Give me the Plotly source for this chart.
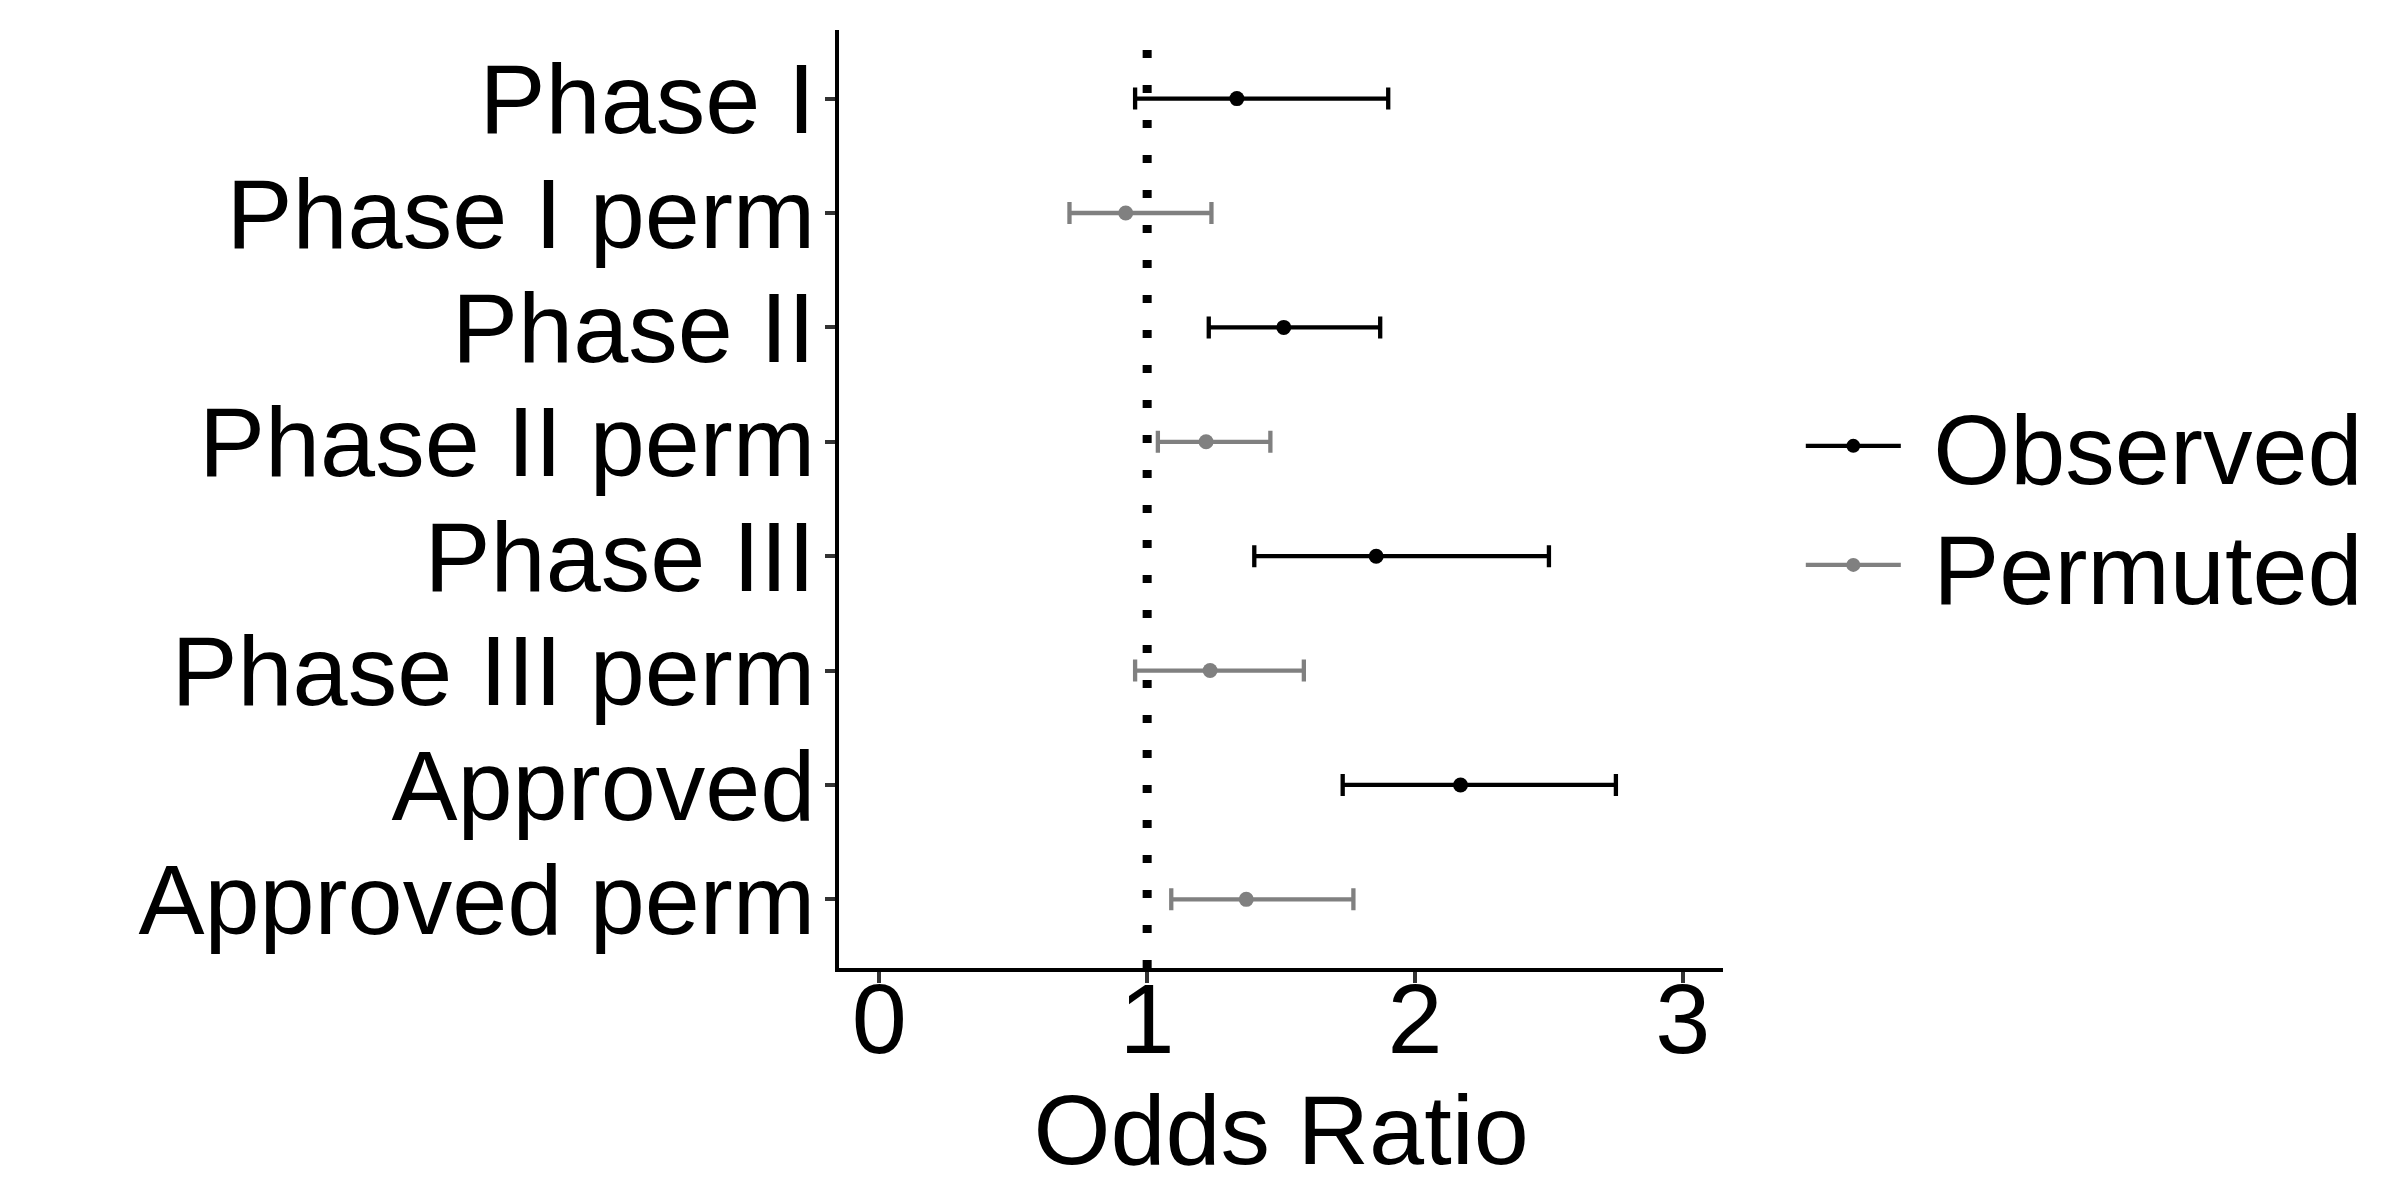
import plotly.graph_objects as go

# ---- data ----
categories = ["Phase I", "Phase I perm", "Phase II", "Phase II perm",
              "Phase III", "Phase III perm", "Approved", "Approved perm"]

obs_labels = ["Phase I", "Phase II", "Phase III", "Approved"]
obs_or = [1.335, 1.51, 1.855, 2.17]
obs_lo = [0.955, 1.23, 1.40, 1.73]
obs_hi = [1.90, 1.87, 2.50, 2.75]

perm_labels = ["Phase I perm", "Phase II perm", "Phase III perm", "Approved perm"]
perm_or = [0.92, 1.22, 1.235, 1.37]
perm_lo = [0.71, 1.04, 0.955, 1.09]
perm_hi = [1.24, 1.46, 1.585, 1.77]

series_names = ["Observed", "Permuted"]
x_ticks = [0, 1, 2, 3]
reference_or = 1

# ---- styles ----
FONT = "Liberation Sans, Arial, sans-serif"
FS = 99
colors = {"Observed": "#000000", "Permuted": "#808080"}
legend_ids = {"Observed": "legend", "Permuted": "legend2"}

fig = go.Figure()

def add_series(name, labels, orv, lo, hi):
    col = colors[name]
    fig.add_trace(go.Scatter(
        x=orv, y=labels, mode="markers", name=name, showlegend=False,
        marker=dict(color=col, size=15),
        error_x=dict(type="data", symmetric=False,
                     array=[h - o for h, o in zip(hi, orv)],
                     arrayminus=[o - l for o, l in zip(orv, lo)],
                     color=col, thickness=4.3, width=11),
    ))
    # legend entry (line + dot key)
    fig.add_trace(go.Scatter(
        x=[None], y=[None], mode="lines+markers", name="\u00a0" + name,
        showlegend=True, legend=legend_ids[name],
        line=dict(color=col, width=4.3), marker=dict(color=col, size=14),
    ))

add_series("Observed", obs_labels, obs_or, obs_lo, obs_hi)
add_series("Permuted", perm_labels, perm_or, perm_lo, perm_hi)

fig.add_shape(type="line", xref="x", yref="y domain",
              x0=reference_or, x1=reference_or, y0=0, y1=1,
              line=dict(color="black", width=9, dash="8px,27px"),
              layer="above")

legend_style = dict(xanchor="left", yanchor="middle",
                    font=dict(size=FS, color="black"), itemwidth=95,
                    bgcolor="rgba(0,0,0,0)")

fig.update_layout(
    width=2400, height=1200,
    margin=dict(l=0, r=0, t=0, b=0),
    paper_bgcolor="white", plot_bgcolor="white",
    font=dict(family=FONT, size=FS, color="black"),
    showlegend=True,
    legend=dict(x=0.747, y=0.635, **legend_style),
    legend2=dict(x=0.747, y=0.5358, **legend_style),
    xaxis=dict(domain=[0.3463, 0.7146], range=[-0.15, 3.15],
               tickmode="array", tickvals=x_ticks, ticktext=[str(t) for t in x_ticks],
               ticks="outside", ticklen=11, tickwidth=3.5, tickcolor="#333333",
               showline=True, linecolor="black", linewidth=4,
               showgrid=False, zeroline=False, automargin=False,
               tickfont=dict(size=FS, color="black"), ticklabelstandoff=-49,
               title=dict(text="Odds Ratio", font=dict(size=FS, color="black"), standoff=0)),
    yaxis=dict(domain=[0.2, 0.9817], type="category",
               categoryorder="array", categoryarray=categories,
               tickmode="array", tickvals=categories, ticktext=categories,
               range=[len(categories) - 1 + 0.6, -0.6],
               ticks="outside", ticklen=10, tickwidth=3.5, tickcolor="#333333",
               showline=True, linecolor="black", linewidth=4,
               showgrid=False, zeroline=False, automargin=False,
               tickfont=dict(size=FS, color="black"), ticklabelstandoff=-10),
)

fig.write_html("out.html")
